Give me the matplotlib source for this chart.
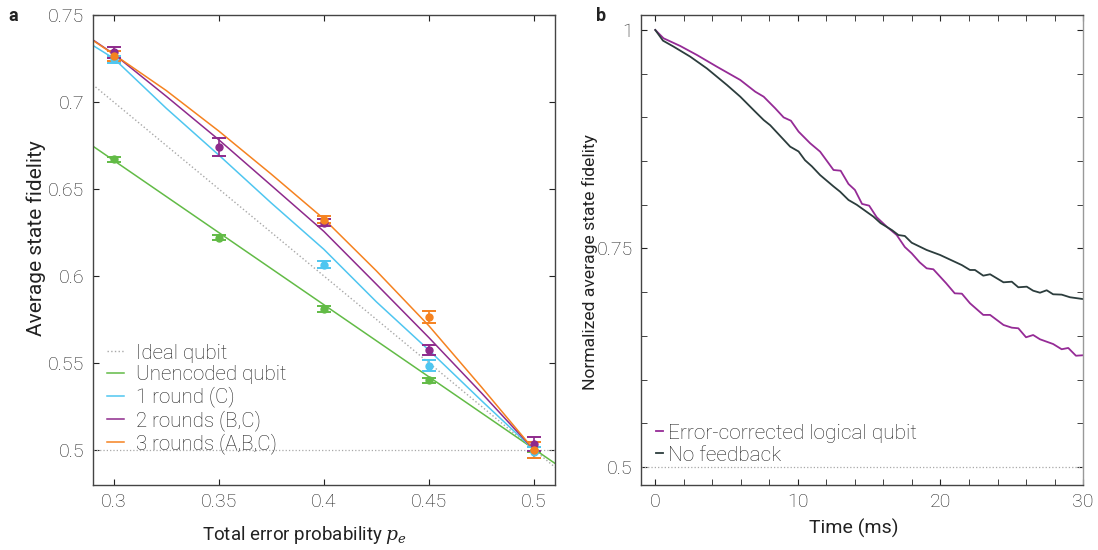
import numpy as np
import matplotlib
matplotlib.use("Agg")
import matplotlib.pyplot as plt
from matplotlib.ticker import MultipleLocator, FixedLocator

plt.rcParams['font.family'] = ['Roboto', 'DejaVu Sans']
plt.rcParams['font.weight'] = 'light'
plt.rcParams['mathtext.fontset'] = 'dejavuserif'
plt.rcParams['text.color'] = '#222222'
plt.rcParams['axes.labelcolor'] = '#222222'
plt.rcParams['xtick.color'] = '#222222'
plt.rcParams['ytick.color'] = '#222222'

GREEN = '#62bb46'
CYAN = '#4fc6f0'
PURPLE = '#8e2a8c'
ORANGE = '#f58220'
GREY = '#a8a8a8'

# ---- panel a: measured points ----
p_meas = [0.30, 0.35, 0.40, 0.45, 0.50]
unenc_pts = [0.667, 0.622, 0.581, 0.540, 0.500]
unenc_err = [0.0015, 0.0015, 0.0015, 0.0015, 0.0015]
p_r1 = [0.30, 0.40, 0.45, 0.50]
r1_pts = [0.7245, 0.6063, 0.5485, 0.4985]
r1_err = [0.002, 0.002, 0.003, 0.003]
p_r2 = [0.30, 0.35, 0.40, 0.45, 0.50]
r2_pts = [0.7285, 0.6741, 0.6305, 0.5573, 0.5033]
r2_err = [0.003, 0.005, 0.002, 0.003, 0.004]
p_r3 = [0.30, 0.40, 0.45, 0.50]
r3_pts = [0.7265, 0.6322, 0.5764, 0.5000]
r3_err = [0.003, 0.002, 0.0035, 0.0045]

# ---- panel a: model curves ----
p_line = [0.29, 0.51]
ideal_line = [0.710, 0.490]
unenc_line = [0.6747, 0.4922]
p_fit = [0.29, 0.30, 0.325, 0.35, 0.375, 0.40, 0.425, 0.45, 0.475, 0.50]
r1_fit = [0.7326, 0.7251, 0.6964, 0.6695, 0.6419, 0.6153, 0.5851, 0.5573, 0.5283, 0.500]
r2_fit = [0.7358, 0.7276, 0.7033, 0.6783, 0.6520, 0.6256, 0.5952, 0.5645, 0.5327, 0.500]
r3_fit = [0.7355, 0.7274, 0.7066, 0.6833, 0.6585, 0.6328, 0.6029, 0.5713, 0.5361, 0.500]

# ---- panel b ----
t_nofb = [0, 0.54, 1.28, 2.45, 3.62, 5.03, 5.96, 7.01, 7.6, 8.06, 9.46, 10.05, 10.5,
          10.98, 11.56, 12.5, 12.96, 13.55, 14.13, 15.3, 15.8, 16.0, 16.6, 17.05, 17.5,
          17.98, 19.03, 19.97, 21.5, 22.07, 22.42, 23.0, 23.48, 24.42, 25.0, 25.46,
          26.05, 26.5, 26.98, 27.45, 27.9, 28.5, 29.08, 29.97]
f_nofb = [1.0, 0.9878, 0.981, 0.9695, 0.956, 0.937, 0.9237, 0.9065, 0.897, 0.891,
          0.8665, 0.861, 0.851, 0.844, 0.834, 0.821, 0.815, 0.8055, 0.80, 0.7864,
          0.779, 0.777, 0.771, 0.7654, 0.7643, 0.7566, 0.7483, 0.7426, 0.731, 0.7254,
          0.7254, 0.7189, 0.7205, 0.7113, 0.712, 0.7056, 0.7063, 0.7017, 0.6994,
          0.7022, 0.6976, 0.6972, 0.6942, 0.6922]
t_qec = [0, 0.58, 1.75, 2.92, 4.32, 5.96, 7.01, 7.6, 8.41, 9.0, 9.51, 10.05, 10.86,
         11.56, 12.5, 13.0, 13.55, 14.0, 14.5, 15.0, 15.53, 16.23, 16.93, 17.5, 17.98,
         18.54, 19.03, 19.5, 20.4, 21.0, 21.5, 22.07, 23.0, 23.48, 24.42, 25.0, 25.46,
         26.0, 26.5, 26.98, 27.9, 28.5, 28.96, 29.5, 29.97]
f_qec = [1.0, 0.9905, 0.9817, 0.9714, 0.958, 0.9428, 0.9294, 0.9237, 0.9104, 0.900,
         0.8962, 0.8837, 0.8704, 0.8608, 0.8398, 0.839, 0.8238, 0.817, 0.801, 0.799,
         0.7857, 0.775, 0.7654, 0.7517, 0.7445, 0.7342, 0.7273, 0.7262, 0.7102,
         0.6987, 0.6983, 0.6873, 0.674, 0.674, 0.6625, 0.6594, 0.6587, 0.6484, 0.651,
         0.6461, 0.6407, 0.6347, 0.6362, 0.6273, 0.6278]

fig = plt.figure(figsize=(10.98, 5.5), dpi=100)
axa = fig.add_axes([0.0844, 0.1182, 0.4211, 0.8551])
axb = fig.add_axes([0.5838, 0.1182, 0.4026, 0.8551])

# panel a
axa.axhline(0.5, color=GREY, ls=':', lw=0.9)
axa.plot(p_line, ideal_line, color=GREY, ls=':', lw=1.0, label='Ideal qubit')
axa.plot(p_line, unenc_line, color=GREEN, lw=1.1, label='Unencoded qubit')
axa.plot(p_fit, r1_fit, color=CYAN, lw=1.1, label='1 round (C)')
axa.plot(p_fit, r2_fit, color=PURPLE, lw=1.1, label='2 rounds (B,C)')
axa.plot(p_fit, r3_fit, color=ORANGE, lw=1.1, label='3 rounds (A,B,C)')

for px, py, pe, c in [(p_meas, unenc_pts, unenc_err, GREEN),
                      (p_r1, r1_pts, r1_err, CYAN),
                      (p_r2, r2_pts, r2_err, PURPLE),
                      (p_r3, r3_pts, r3_err, ORANGE)]:
    axa.errorbar(px, py, yerr=pe, fmt='o', color=c, ms=5, mec=c,
                 elinewidth=1.2, capsize=5, capthick=1.4, zorder=3)

axa.set_xlim(0.29, 0.51)
axa.set_ylim(0.4798, 0.7502)
axa.set_xticks([0.3, 0.35, 0.4, 0.45, 0.5])
axa.set_xticklabels(['0.3', '0.35', '0.4', '0.45', '0.5'])
axa.set_yticks([0.5, 0.55, 0.6, 0.65, 0.7, 0.75])
axa.set_yticklabels(['0.5', '0.55', '0.6', '0.65', '0.7', '0.75'])
axa.set_xlabel('Total error probability $p_e$', fontsize=13.5)
axa.xaxis.set_label_coords(0.459, -0.082)
axa.set_ylabel('Average state fidelity', fontsize=15)
axa.yaxis.set_label_coords(-0.102, 0.525)
axa.legend(loc='lower left', bbox_to_anchor=(0.0, 0.035), frameon=False, fontsize=14.8,
           handlelength=0.8, handletextpad=0.6, labelspacing=0.12, borderaxespad=0.3)

# panel b
axb.axhline(0.5, color=GREY, ls=':', lw=0.9)
axb.plot(t_qec, f_qec, color='#952b96', lw=1.3, label='Error-corrected logical qubit')
axb.plot(t_nofb, f_nofb, color='#2c3d3d', lw=1.3, label='No feedback')
axb.set_xlim(-1, 30)
axb.set_ylim(0.4794, 1.0175)
axb.set_xticks([0, 10, 20, 30])
axb.xaxis.set_minor_locator(FixedLocator(np.arange(2, 30, 2)))
axb.set_yticks([0.5, 0.75, 1.0])
axb.set_yticklabels(['0.5', '0.75', '1'])
axb.yaxis.set_minor_locator(MultipleLocator(0.05))
axb.set_xlabel('Time (ms)', fontsize=14)
axb.xaxis.set_label_coords(0.482, -0.072)
axb.set_ylabel('Normalized average state fidelity', fontsize=12.6)
axb.yaxis.set_label_coords(-0.098, 0.473)
axb.legend(loc='lower left', bbox_to_anchor=(0.0, 0.012), frameon=False, fontsize=15,
           handlelength=0.35, handletextpad=0.25, labelspacing=0.15, borderaxespad=0.3)

for ax in (axa, axb):
    ax.tick_params(which='both', direction='in', top=True, right=True, labelsize=14)
    ax.tick_params(which='major', length=4, pad=6)
    ax.tick_params(which='minor', length=4)
    for s in ax.spines.values():
        s.set_color('#444444')
        s.set_linewidth(1.0)
axb.spines['right'].set_color('#999999')

fig.text(0.008, 0.962, 'a', fontsize=13, fontweight='bold')
fig.text(0.543, 0.962, 'b', fontsize=13, fontweight='bold')

fig.savefig('out.png', dpi=100)
